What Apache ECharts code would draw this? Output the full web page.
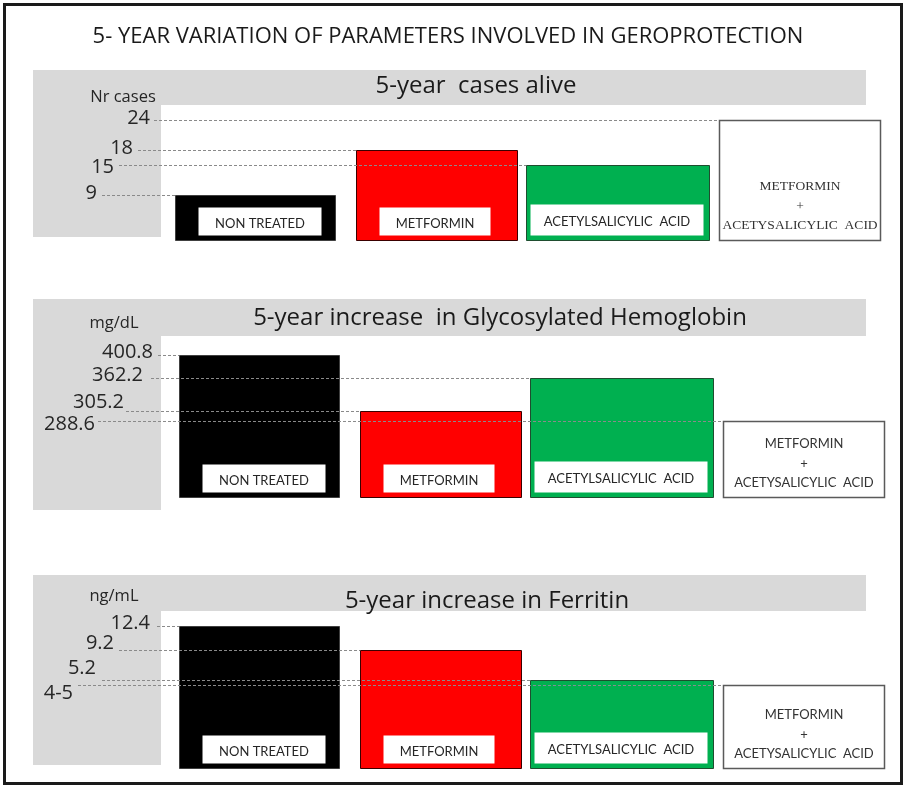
<!DOCTYPE html>
<html>
<head>
<meta charset="utf-8">
<script src="https://cdn.jsdelivr.net/npm/echarts@6/dist/echarts.min.js"></script>
<style>html,body{margin:0;padding:0;background:#fff}#c{width:905px;height:786px}</style>
</head>
<body>
<div id="c"></div>
<script>
// ---------------- data ----------------
const mainTitle = '5- YEAR VARIATION OF PARAMETERS INVOLVED IN GEROPROTECTION';
const categories = ['NON TREATED', 'METFORMIN', 'ACETYLSALICYLIC  ACID', 'METFORMIN + ACETYSALICYLIC  ACID'];
const comboLines = ['METFORMIN', '+', 'ACETYSALICYLIC  ACID'];
const panelTitles = ['5-year  cases alive', '5-year increase  in Glycosylated Hemoglobin', '5-year increase in Ferritin'];
const unitLabels = ['Nr cases', 'mg/dL', 'ng/mL'];
const casesAlive = [9, 18, 15, 24];
const casesAliveLabels = ['9', '18', '15', '24'];
const hba1cIncrease = [400.8, 305.2, 362.2, 288.6];
const hba1cLabels = ['400.8', '305.2', '362.2', '288.6'];
const ferritinIncrease = [12.4, 9.2, 5.2, 4.5];
const ferritinLabels = ['12.4', '9.2', '5.2', '4-5'];

// ---------------- layout / style ----------------
const panelValues = [casesAlive, hba1cIncrease, ferritinIncrease];
const panelLabels = [casesAliveLabels, hba1cLabels, ferritinLabels];
const axisRange = [[0, 24], [160, 400.8], [-6.5, 12.4]];
const grids = [
  {left: 164, right: 15, top: 120, height: 120},
  {left: 168, right: 11, top: 355, height: 142},
  {left: 168, right: 11, top: 626, height: 142}
];
const bands = [
  {y: 70, h: 35, colBottom: 237, titleX: 476, titleY: 86, unitX: 123, unitY: 97},
  {y: 299, h: 37, colBottom: 510, titleX: 500, titleY: 318, unitX: 114, unitY: 323},
  {y: 575, h: 36, colBottom: 765, titleX: 487, titleY: 601, unitX: 114, unitY: 596}
];
// right edge of tick label / start of dashed line / label vertical nudge, per panel per category
const labelRight = [[97, 133, 114, 150], [153, 124, 143, 95], [150, 114, 96, 73]];
const lineStart = [[102, 138, 119, 154], [158, 126, 151, 98], [157, 119, 102, 78]];
const labelDy = [[-2, -2, 2, -2], [-3, -9, -3, 3], [-3, -7, -12, 8]];
const widthFactor = [0.882, 0.886, 1.008, 0.885];
const barFill = ['#000000', '#ff0000', '#00b050', '#ffffff'];
const barStroke = ['#404040', '#3a0000', '#1f4d2f', '#5a5a5a'];
const inner = [{l: 23, w: 123, h: 28}, {l: 23, w: 111, h: 28}, {l: 4, w: -10, h: 31}];
const sansFont = '"Open Sans", Lato, sans-serif';
const smallFont = 'Lato, "Open Sans", sans-serif';

function barRender(p) {
  return function (params, api) {
    const i = api.value(0), v = api.value(1);
    const top = api.coord([i, v]);
    const base = api.coord([i, axisRange[p][0]]);
    const band = api.size([1, 0])[0];
    const w = band * widthFactor[i];
    const x0 = Math.round(top[0] - w / 2) + 0.5;
    const y0 = Math.round(top[1]) + 0.5;
    const yb = Math.round(base[1]) + 0.5;
    const children = [{
      type: 'rect',
      shape: {x: x0, y: y0, width: Math.round(w), height: yb - y0},
      style: {fill: barFill[i], stroke: barStroke[i], lineWidth: i === 3 ? 1.5 : 1}
    }];
    if (i < 3) {
      const ib = inner[i];
      const iw = ib.w > 0 ? ib.w : Math.round(w) + ib.w;
      const ix = x0 + ib.l;
      const iy = yb - 5 - ib.h;
      children.push({type: 'rect', shape: {x: ix, y: iy, width: iw, height: ib.h}, style: {fill: '#ffffff'}});
      children.push({type: 'text', style: {
        text: categories[i], x: ix + iw / 2, y: iy + ib.h / 2 + 2,
        textAlign: 'center', textVerticalAlign: 'middle',
        font: '13px ' + smallFont, fill: '#262626'
      }});
    } else {
      const cx = x0 + Math.round(w) / 2;
      const offs = [-54, -34, -15];
      const f = p === 0 ? '13.5px "Liberation Serif", serif' : '13px ' + smallFont;
      comboLines.forEach(function (t, k) {
        children.push({type: 'text', style: {
          text: t, x: cx, y: yb + offs[k], textAlign: 'center', textVerticalAlign: 'middle',
          font: f, fill: '#333333'
        }});
      });
    }
    return {type: 'group', children: children};
  };
}

function lineRender(p) {
  return function (params, api) {
    const i = api.value(0), v = api.value(1);
    const top = api.coord([i, v]);
    const band = api.size([1, 0])[0];
    const w = band * widthFactor[i];
    const x0 = Math.round(top[0] - w / 2);
    const y = Math.round(top[1]) + 0.5;
    return {type: 'group', children: [
      {type: 'line', shape: {x1: lineStart[p][i], y1: y, x2: x0, y2: y},
        style: {stroke: '#8a8a8a', lineWidth: 1, lineDash: [3, 2]}},
      {type: 'text', style: {
        text: panelLabels[p][i], x: labelRight[p][i], y: y + labelDy[p][i],
        textAlign: 'right', textVerticalAlign: 'middle',
        font: '20px ' + sansFont, fill: '#262626'
      }}
    ]};
  };
}

const graphic = [{
  type: 'rect', z: -10, shape: {x: 4.5, y: 4.5, width: 897, height: 779},
  style: {fill: '#ffffff', stroke: '#1a1a1a', lineWidth: 3}
}, {
  type: 'text', z: 5, style: {text: mainTitle, x: 448, y: 37, textAlign: 'center', textVerticalAlign: 'middle',
    font: '22px ' + sansFont, fill: '#1a1a1a'}
}];
bands.forEach(function (b, p) {
  graphic.push({type: 'rect', z: -5, shape: {x: 33, y: b.y, width: 833, height: b.h}, style: {fill: '#d9d9d9'}});
  graphic.push({type: 'rect', z: -5, shape: {x: 33, y: b.y, width: 128, height: b.colBottom - b.y}, style: {fill: '#d9d9d9'}});
  graphic.push({type: 'text', z: 5, style: {text: panelTitles[p], x: b.titleX, y: b.titleY, textAlign: 'center',
    textVerticalAlign: 'middle', font: '24px ' + sansFont, fill: '#1a1a1a'}});
  graphic.push({type: 'text', z: 5, style: {text: unitLabels[p], x: b.unitX, y: b.unitY, textAlign: 'center',
    textVerticalAlign: 'middle', font: '16.5px ' + sansFont, fill: '#262626'}});
});

const xAxis = [], yAxis = [], series = [];
panelValues.forEach(function (vals, p) {
  xAxis.push({type: 'category', gridIndex: p, data: categories, show: false, boundaryGap: true});
  yAxis.push({type: 'value', gridIndex: p, min: axisRange[p][0], max: axisRange[p][1], show: false, splitLine: {show: false}});
  const data = vals.map(function (v, i) { return [i, v]; });
  series.push({type: 'custom', xAxisIndex: p, yAxisIndex: p, renderItem: barRender(p), data: data, z: 2, clip: false, silent: true});
  series.push({type: 'custom', xAxisIndex: p, yAxisIndex: p, renderItem: lineRender(p), data: data, z: 5, clip: false, silent: true});
});

const chart = echarts.init(document.getElementById('c'), null, {renderer: 'canvas'});
chart.setOption({
  animation: false,
  backgroundColor: '#ffffff',
  grid: grids,
  xAxis: xAxis,
  yAxis: yAxis,
  graphic: graphic,
  series: series
});
</script>
</body>
</html>
